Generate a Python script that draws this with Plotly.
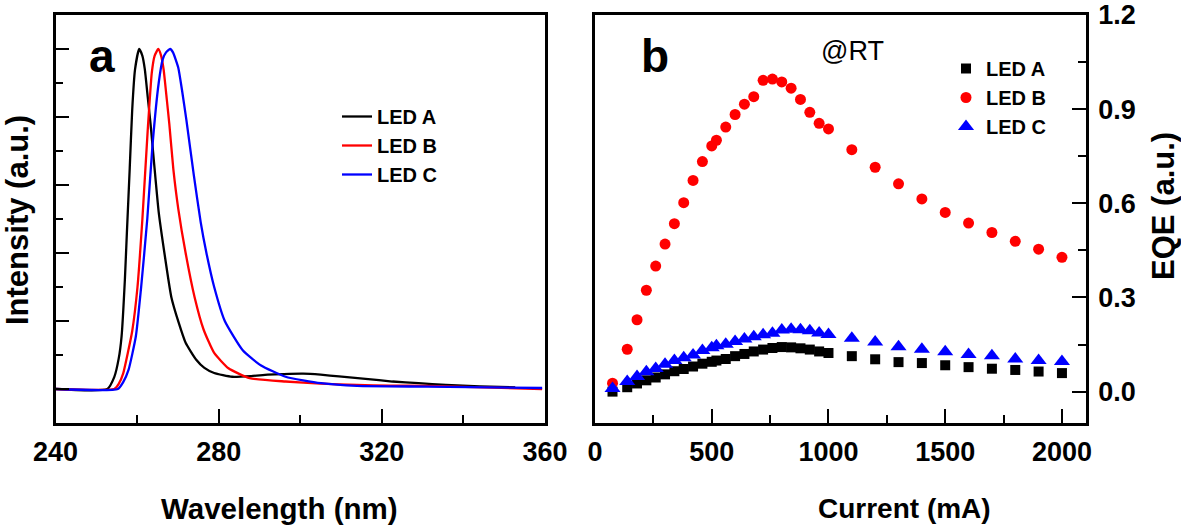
import plotly.graph_objects as go

# ---------------- data: panel a (EL spectra) ----------------
wl_a = [240, 252.7, 254.4, 255.5, 256.2, 257.0, 257.5, 258.2, 258.8, 259.5, 260.5, 261.3, 261.9,
        262.6, 263.3, 264.2, 265.3, 266.7, 268.4, 270.2, 271.9, 274.5, 276.5, 278.9, 283.3,
        288.0, 292.0, 296.0, 300.7, 305.0, 309.5, 316.0, 322.6, 329.0, 335.7, 344.0, 352.7]
int_a = [0, 0, 0.035, 0.09, 0.155, 0.32, 0.46, 0.65, 0.82, 0.94, 1.0, 0.98, 0.94,
         0.86, 0.78, 0.66, 0.52, 0.40, 0.27, 0.195, 0.136, 0.086, 0.062, 0.047, 0.036,
         0.038, 0.042, 0.044, 0.045, 0.042, 0.037, 0.030, 0.022, 0.017, 0.012, 0.008, 0.005]

wl_b = [240, 254.4, 255.5, 256.6, 257.8, 258.8, 260.1, 261.3, 262.6, 263.6, 264.3, 265.2, 265.9,
        266.5, 267.3, 267.9, 268.9, 270.1, 271.9, 274.1, 276.3, 278.9, 282.4, 287.6, 296.4,
        305.0, 313.9, 322.0, 331.3, 345.0, 359.3]
int_b = [0, 0, 0.015, 0.046, 0.11, 0.17, 0.30, 0.50, 0.76, 0.93, 0.98, 1.0, 0.98,
         0.94, 0.85, 0.78, 0.645, 0.53, 0.40, 0.27, 0.175, 0.106, 0.061, 0.032, 0.022,
         0.016, 0.012, 0.010, 0.009, 0.005, 0.0]

wl_c = [240, 255.3, 256.6, 257.9, 259.7, 261.0, 262.5, 263.8, 265.3, 266.3, 267.1, 268.1, 268.8,
        270.1, 271.0, 272.1, 273.9, 275.6, 277.0, 278.9, 281.5, 285.9, 290.3, 296.4, 305.1,
        313.9, 331.3, 359.3]
int_c = [0, 0, 0.02, 0.056, 0.155, 0.30, 0.50, 0.72, 0.90, 0.97, 0.99, 1.0, 0.99,
         0.945, 0.88, 0.79, 0.63, 0.49, 0.40, 0.30, 0.20, 0.114, 0.070, 0.036, 0.017,
         0.009, 0.007, 0.003]

# ---------------- data: panel b (EQE vs current) ----------------
current_ma = [75, 138, 180, 220, 260, 300, 340, 380, 420, 460, 500, 520, 560, 600, 640, 680,
              720, 760, 800, 840, 880, 920, 960, 1000, 1100, 1200, 1300, 1400, 1500, 1600,
              1700, 1800, 1900, 2000]
eqe_a = [0.0, 0.014, 0.026, 0.036, 0.045, 0.055, 0.065, 0.072, 0.080, 0.089, 0.095, 0.099,
         0.104, 0.113, 0.120, 0.128, 0.134, 0.139, 0.142, 0.141, 0.138, 0.134, 0.128, 0.123,
         0.113, 0.103, 0.094, 0.091, 0.084, 0.078, 0.073, 0.069, 0.064, 0.059]
eqe_b = [0.027, 0.135, 0.229, 0.323, 0.400, 0.470, 0.535, 0.602, 0.673, 0.733, 0.783, 0.801,
         0.843, 0.883, 0.916, 0.940, 0.992, 0.996, 0.987, 0.967, 0.931, 0.890, 0.855, 0.837,
         0.771, 0.715, 0.662, 0.614, 0.571, 0.537, 0.507, 0.479, 0.454, 0.428]
eqe_c = [0.010, 0.032, 0.048, 0.063, 0.074, 0.087, 0.099, 0.108, 0.117, 0.131, 0.140, 0.146,
         0.151, 0.160, 0.168, 0.175, 0.181, 0.186, 0.196, 0.199, 0.197, 0.194, 0.187, 0.182,
         0.170, 0.158, 0.143, 0.135, 0.127, 0.118, 0.114, 0.104, 0.099, 0.096]

series_names = ["LED A", "LED B", "LED C"]
colors = ["#000000", "#ff0000", "#0000ff"]

W, H = 1181, 527
TOP, BOT = 15, 423
FONT = "Arial, Liberation Sans, sans-serif"

def px_x(x):
    return x / W

def px_y(y):
    return (BOT - y) / (BOT - TOP)

fig = go.Figure()

for wl, inten, name, col in zip([wl_a, wl_b, wl_c], [int_a, int_b, int_c], series_names, colors):
    fig.add_trace(go.Scatter(x=wl, y=inten, mode="lines", name=name,
                             line=dict(color=col, width=2.3, shape="spline", smoothing=0.5),
                             xaxis="x", yaxis="y", legend="legend"))

symbols = ["square", "circle", "triangle-up"]
sizes = [10, 11, 14]
for eqe, name, col, sym, sz in zip([eqe_a, eqe_b, eqe_c], series_names, colors, symbols, sizes):
    fig.add_trace(go.Scatter(x=current_ma, y=eqe, mode="markers", name=name,
                             marker=dict(color=col, symbol=sym, size=sz, line=dict(width=0)),
                             xaxis="x2", yaxis="y2", legend="legend2"))

tickfont = dict(family=FONT, size=27, color="black", weight="bold")
common = dict(showgrid=False, zeroline=False, showline=True, linecolor="black", linewidth=2.5,
              mirror=True, ticks="inside", ticklen=14, tickwidth=2, tickcolor="black",
              tickfont=tickfont, automargin=False, ticklabeloverflow="allow")

fig.update_layout(
    width=W, height=H,
    margin=dict(l=0, r=0, t=TOP, b=H - BOT, autoexpand=False),
    paper_bgcolor="white", plot_bgcolor="white",
    showlegend=True,
    xaxis=dict(domain=[px_x(55.5), px_x(545)], range=[240, 360], tick0=240, dtick=40,
               anchor="y", ticklabelstandoff=3,
               minor=dict(dtick=20, ticklen=8, tickwidth=2, ticks="inside", tickcolor="black",
                          showgrid=False),
               **common),
    yaxis=dict(domain=[0, 1], range=[-0.1, 1.1], tick0=0, dtick=0.2, anchor="x",
               showticklabels=False,
               minor=dict(dtick=0.1, ticklen=8, tickwidth=2, ticks="inside", tickcolor="black",
                          showgrid=False),
               **common),
    xaxis2=dict(domain=[px_x(595), px_x(1086)], range=[0, 2103], tick0=0, dtick=500,
                anchor="y2", ticklabelstandoff=3,
                minor=dict(dtick=250, ticklen=8, tickwidth=2, ticks="inside", tickcolor="black",
                           showgrid=False),
                **common),
    yaxis2=dict(domain=[0, 1], range=[-0.1, 1.2001], tick0=0, dtick=0.3, tickformat=".1f",
                anchor="x2", side="right", ticklabelstandoff=4,
                minor=dict(dtick=0.15, ticklen=8, tickwidth=2, ticks="inside", tickcolor="black",
                           showgrid=False),
                **common),
    legend=dict(x=px_x(337), y=px_y(97), xanchor="left", yanchor="top",
                bgcolor="rgba(0,0,0,0)", borderwidth=0,
                font=dict(family=FONT, size=20, color="black", weight="bold")),
    legend2=dict(x=px_x(946), y=px_y(49), xanchor="left", yanchor="top",
                 bgcolor="rgba(0,0,0,0)", borderwidth=0,
                 font=dict(family=FONT, size=20, color="black", weight="bold")),
)

ann_font = lambda s, w="bold": dict(family=FONT, size=s, color="black", weight=w)
annotations = [
    dict(text="a", x=px_x(102.5), y=px_y(56), font=ann_font(46)),
    dict(text="b", x=px_x(655), y=px_y(56), font=ann_font(46)),
    dict(text="@RT", x=px_x(852), y=px_y(51), font=ann_font(27, "normal")),
    dict(text="Intensity (a.u.)", x=px_x(17), y=px_y(220), textangle=-90, font=ann_font(31)),
    dict(text="Wavelength (nm)", x=px_x(279), y=px_y(509), font=ann_font(29.5)),
    dict(text="Current (mA)", x=px_x(904), y=px_y(509), font=ann_font(28)),
    dict(text="EQE (a.u.)", x=px_x(1163), y=px_y(206), textangle=-90, font=ann_font(31)),
]
for a in annotations:
    a.update(xref="paper", yref="paper", xanchor="center", yanchor="middle", showarrow=False)
fig.update_layout(annotations=annotations)

fig.write_html("out.html",
               config={"displayModeBar": False},
               post_script="document.body.style.margin='0';document.body.style.overflow='hidden';")
